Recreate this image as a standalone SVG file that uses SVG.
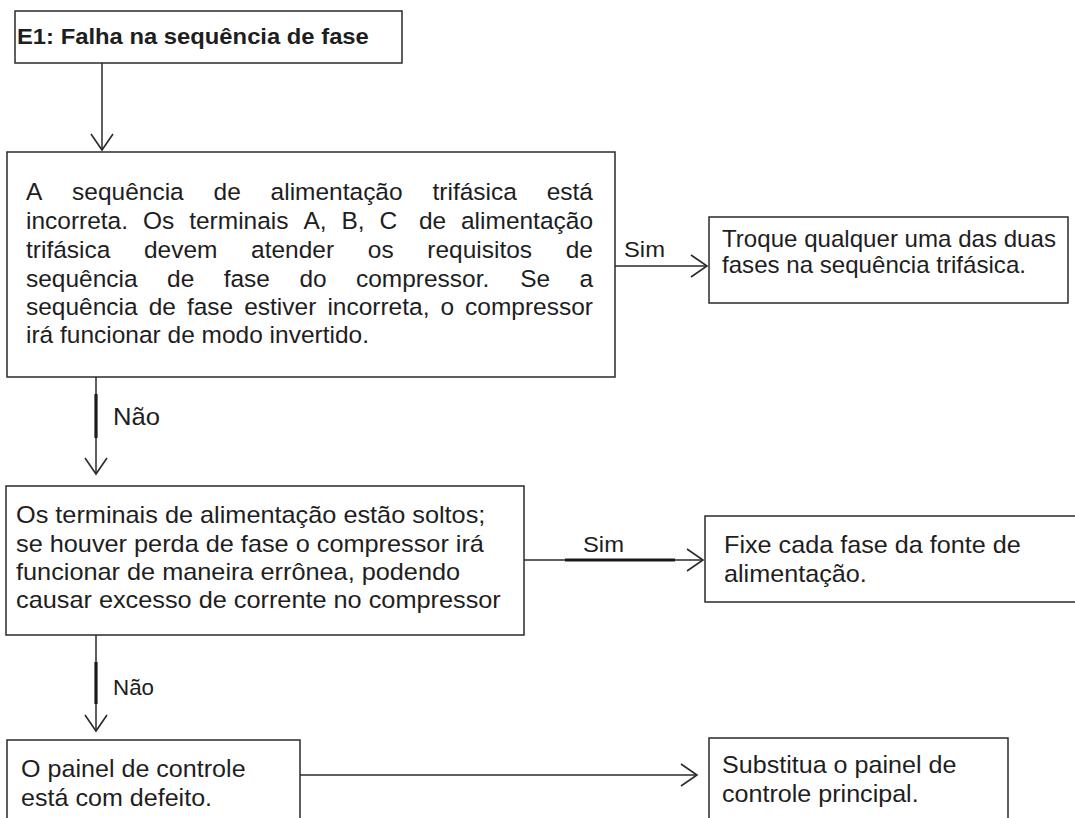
<svg xmlns="http://www.w3.org/2000/svg" width="1075" height="818" viewBox="0 0 1075 818">
<style>
.box{fill:#fff;stroke:#2a2a2a;stroke-width:1.5}
.t{font-family:"Liberation Sans",Arial,sans-serif;font-size:24px;fill:#1e1e1e}
.title{font-family:"Liberation Sans",Arial,sans-serif;font-size:22.5px;font-weight:bold;fill:#1e1e1e}
.lbl{font-family:"Liberation Sans",Arial,sans-serif;font-size:22.5px;fill:#1e1e1e}
.c{fill:none;stroke:#2a2a2a;stroke-width:1.5}
.thick{fill:none;stroke:#1a1a1a;stroke-width:3.2}
</style>
<defs>
<marker id="arr" markerUnits="userSpaceOnUse" markerWidth="24" markerHeight="28" viewBox="-20 -14 24 28" refX="0" refY="0" orient="auto" overflow="visible">
<path d="M-16,-11 L0,0 L-16,11" fill="none" stroke="#2a2a2a" stroke-width="1.6"/>
</marker>
</defs>
<rect width="1075" height="818" fill="#fff"/>

<g id="connectors">
<line class="c" x1="102" y1="63" x2="102" y2="150" marker-end="url(#arr)"/>
<line class="c" x1="615" y1="266" x2="707" y2="266" marker-end="url(#arr)"/>
<text class="lbl" transform="translate(624 257) scale(1.058 1)">Sim</text>
<line class="c" x1="96" y1="377" x2="96" y2="474" marker-end="url(#arr)"/>
<line class="thick" x1="96" y1="394" x2="96" y2="438"/>
<text class="t" transform="translate(113 425) scale(1.067 1)">Não</text>
<line class="c" x1="524" y1="560" x2="703" y2="560" marker-end="url(#arr)"/>
<line class="thick" x1="565" y1="560" x2="675" y2="560"/>
<text class="lbl" transform="translate(583 552) scale(1.058 1)">Sim</text>
<line class="c" x1="96" y1="635" x2="96" y2="731" marker-end="url(#arr)"/>
<line class="thick" x1="96" y1="662" x2="96" y2="704"/>
<text class="lbl" style="font-size:21.5px" transform="translate(113 695) scale(1.04 1)">Não</text>
<line class="c" x1="300" y1="775" x2="697" y2="775" marker-end="url(#arr)"/>
</g>

<g id="n1">
<rect class="box" x="15" y="11" width="387" height="52"/>
<text class="title" transform="translate(17 44) scale(1.058 1)">E1: Falha na sequência de fase</text>
</g>

<g id="n2">
<rect class="box" x="7" y="152" width="608" height="225"/>
<g transform="matrix(1.0515 0 0 1 0 0)">
<text class="t" style="font-size:23.3px" y="200"><tspan x="24.73">A</tspan><tspan x="68.57">sequência</tspan><tspan x="203.14">de</tspan><tspan x="257.35">alimentação</tspan><tspan x="411.32">trifásica</tspan><tspan x="519.92">está</tspan></text>
<text class="t" style="font-size:23.3px" y="229"><tspan x="24.73">incorreta.</tspan><tspan x="136.0">Os</tspan><tspan x="179.93">terminais</tspan><tspan x="288.54">A,</tspan><tspan x="324.77">B,</tspan><tspan x="360.91">C</tspan><tspan x="398.38">de</tspan><tspan x="438.42">alimentação</tspan></text>
<text class="t" style="font-size:23.3px" y="258"><tspan x="24.73">trifásica</tspan><tspan x="136.95">devem</tspan><tspan x="238.80">atender</tspan><tspan x="349.79">os</tspan><tspan x="406.37">requisitos</tspan><tspan x="537.99">de</tspan></text>
<text class="t" style="font-size:23.3px" y="287"><tspan x="24.73">sequência</tspan><tspan x="158.92">de</tspan><tspan x="212.74">fase</tspan><tspan x="284.74">do</tspan><tspan x="338.56">compressor.</tspan><tspan x="494.72">Se</tspan><tspan x="551.21">a</tspan></text>
<text class="t" style="font-size:23.3px" y="315"><tspan x="24.73">sequência</tspan><tspan x="141.42">de</tspan><tspan x="177.75">fase</tspan><tspan x="232.24">estiver</tspan><tspan x="311.36">incorreta,</tspan><tspan x="418.93">o</tspan><tspan x="442.32">compressor</tspan></text>
<text class="t" style="font-size:23.3px" x="24.73" y="343">irá funcionar de modo invertido.</text>
</g>
</g>

<g id="n3">
<rect class="box" x="709" y="217" width="359" height="86"/>
<text class="t" style="font-size:23px" transform="translate(722 247) scale(1.048 1)"><tspan x="0" y="0">Troque qualquer uma das duas</tspan><tspan x="0" y="26">fases na sequência trifásica.</tspan></text>
</g>

<g id="n4">
<rect class="box" x="6" y="486" width="518" height="149"/>
<text class="t" transform="translate(16 523) scale(1.054 1)"><tspan x="0" y="0">Os terminais de alimentação estão soltos;</tspan><tspan x="0" y="29">se houver perda de fase o compressor irá</tspan><tspan x="0" y="57">funcionar de maneira errônea, podendo</tspan><tspan x="0" y="85">causar excesso de corrente no compressor</tspan></text>
</g>

<g id="n5">
<rect class="box" x="705" y="516" width="400" height="86"/>
<text class="t" transform="translate(724 553) scale(1.05 1)"><tspan x="0" y="0">Fixe cada fase da fonte de</tspan><tspan x="0" y="29">alimentação.</tspan></text>
</g>

<g id="n6">
<rect class="box" x="7" y="740" width="293" height="100"/>
<text class="t" transform="translate(21 777) scale(1.046 1)"><tspan x="0" y="0">O painel de controle</tspan><tspan x="0" y="29">está com defeito.</tspan></text>
</g>

<g id="n7">
<rect class="box" x="709" y="738" width="299" height="100"/>
<text class="t" transform="translate(722 773) scale(1.046 1)"><tspan x="0" y="0">Substitua o painel de</tspan><tspan x="0" y="29">controle principal.</tspan></text>
</g>
</svg>
